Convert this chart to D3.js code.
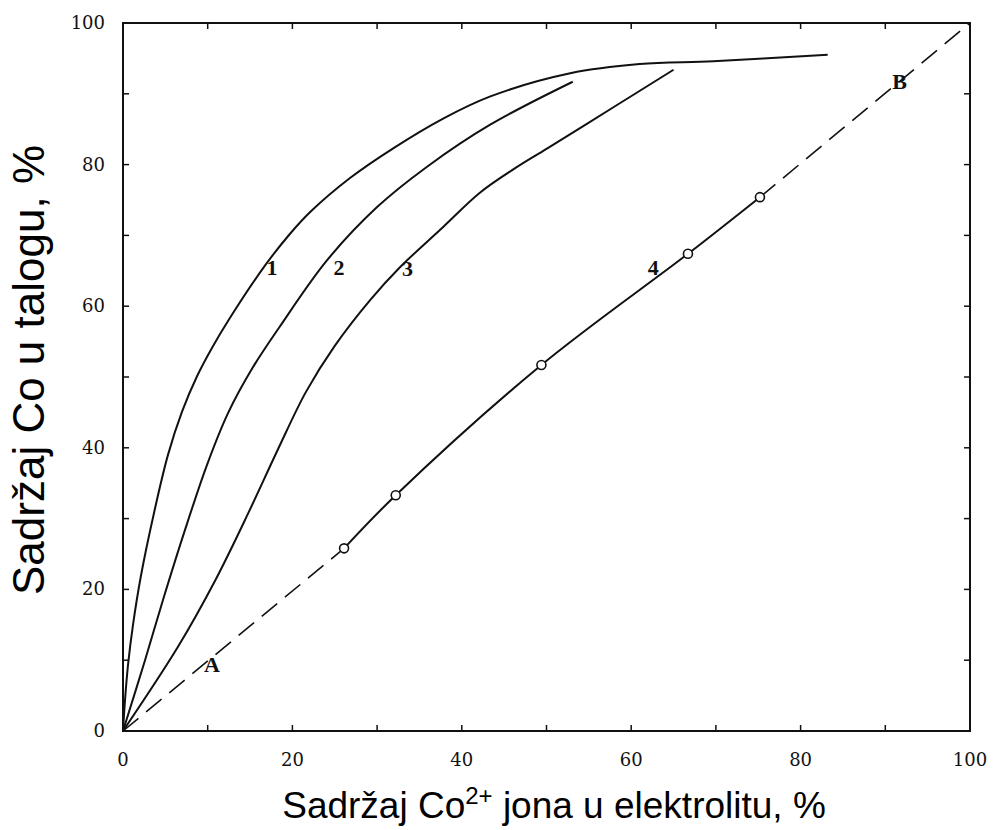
<!DOCTYPE html>
<html><head><meta charset="utf-8">
<script src="https://cdn.jsdelivr.net/npm/d3@7"></script>
<style>html,body{margin:0;padding:0;background:#fff;}</style>
</head><body>
<svg id="chart" width="993" height="830"></svg>
<script>
const tickValues = [0,10,20,30,40,50,60,70,80,90,100];
const tickLabels = [0,20,40,60,80,100];
const curve1 = [[0,0],[0.24,4.4],[0.59,9.3],[1.18,15.0],[2.13,22.0],[3.66,30.8],[5.31,39.0],[6.97,45.1],[8.74,50.1],[10.5,54.1],[12.6,58.3],[16.8,65.8],[19.7,70.2],[22.1,73.3],[26.8,78.1],[31.9,82.3],[37.8,86.5],[43.3,89.6],[52.8,92.9],[61.0,94.2],[69.7,94.6],[83.2,95.5]];
const curve2 = [[0,0],[2.6,10.0],[4.72,18.5],[7.32,28.4],[9.92,37.6],[12.4,44.9],[15.3,51.3],[18.5,57.1],[24.1,66.5],[30.0,74.0],[35.9,79.7],[43.3,85.6],[53.1,91.7]];
const curve3 = [[0,0],[6.49,11.9],[10.9,21.3],[14.8,30.8],[18.3,39.8],[21.6,47.9],[25.0,54.4],[29.2,60.9],[32.7,65.5],[37.8,71.2],[42.1,76.0],[46.3,79.5],[50.1,82.3],[57.9,88.1],[65.0,93.4]];
const points4 = [[26.1,25.8],[32.2,33.3],[49.4,51.7],[66.7,67.4],[75.2,75.4]];
const diagonal = [[0,0],[100,100]];
const curveLabels = [{t:"1",x:17.6,y:65.4},{t:"2",x:25.5,y:65.4},{t:"3",x:33.6,y:65.3},{t:"4",x:62.6,y:65.4}];
const lineLabels = [{t:"A",x:10.5,y:9.3},{t:"B",x:91.7,y:91.7}];
const xTitle = "Sadržaj Co";
const yTitle = "Sadržaj Co u talogu, %";

const svg = d3.select("#chart");
const x = d3.scaleLinear().domain([0,100]).range([123,970]);
const y = d3.scaleLinear().domain([0,100]).range([731,23]);
const line = d3.line().x(d=>x(d[0])).y(d=>y(d[1])).curve(d3.curveCatmullRom.alpha(0.5));
const straight = d3.line().x(d=>x(d[0])).y(d=>y(d[1]));

// frame
svg.append("rect").attr("x",x(0)).attr("y",y(100)).attr("width",x(100)-x(0)).attr("height",y(0)-y(100))
  .attr("fill","none").attr("stroke","#111").attr("stroke-width",2);

// inward ticks on all sides
const tl = 6;
const tk = svg.append("g").attr("stroke","#111").attr("stroke-width",1.5);
tickValues.filter(v=>v>0&&v<100).forEach(v=>{
  tk.append("line").attr("x1",x(v)).attr("x2",x(v)).attr("y1",y(0)).attr("y2",y(0)-tl);
  tk.append("line").attr("x1",x(v)).attr("x2",x(v)).attr("y1",y(100)).attr("y2",y(100)+tl);
  tk.append("line").attr("y1",y(v)).attr("y2",y(v)).attr("x1",x(0)).attr("x2",x(0)+tl);
  tk.append("line").attr("y1",y(v)).attr("y2",y(v)).attr("x1",x(100)).attr("x2",x(100)-tl);
});

// tick labels
const tf = "'DejaVu Serif', serif";
svg.append("g").selectAll("text").data(tickLabels).join("text")
  .attr("x",d=>x(d)).attr("y",766).attr("text-anchor","middle")
  .attr("font-family",tf).attr("font-size",18).attr("fill","#111").text(d=>d);
svg.append("g").selectAll("text").data(tickLabels).join("text")
  .attr("x",105).attr("y",d=>y(d)+6).attr("text-anchor","end")
  .attr("font-family",tf).attr("font-size",18).attr("fill","#111").text(d=>d);

// dashed diagonal segments outside line 4
const first = points4[0], last = points4[points4.length-1];
svg.append("path").attr("d",straight([diagonal[0],first])).attr("fill","none")
  .attr("stroke","#111").attr("stroke-width",1.6).attr("stroke-dasharray","20,10");
svg.append("path").attr("d",straight([last,diagonal[1]])).attr("fill","none")
  .attr("stroke","#111").attr("stroke-width",1.6).attr("stroke-dasharray","20,10");

// curves
[curve1,curve2,curve3].forEach(c=>{
  svg.append("path").attr("d",line(c)).attr("fill","none").attr("stroke","#111").attr("stroke-width",2);
});
svg.append("path").attr("d",line(points4)).attr("fill","none").attr("stroke","#111").attr("stroke-width",2);
svg.append("g").selectAll("circle").data(points4).join("circle")
  .attr("cx",d=>x(d[0])).attr("cy",d=>y(d[1])).attr("r",4.5)
  .attr("fill","#fff").attr("stroke","#111").attr("stroke-width",1.6);

// labels
const lf = "'Liberation Serif', serif";
svg.append("g").selectAll("text").data(curveLabels.concat(lineLabels)).join("text")
  .attr("x",d=>x(d.x)).attr("y",d=>y(d.y)+7).attr("text-anchor","middle")
  .attr("font-family",lf).attr("font-size",22).attr("font-weight","bold").attr("fill","#111").text(d=>d.t);

// axis titles
const xt = svg.append("text").attr("x",554).attr("y",818).attr("text-anchor","middle")
  .attr("font-family","'Liberation Sans', Arial, sans-serif").attr("font-size",37).attr("fill","#000");
xt.append("tspan").text(xTitle);
xt.append("tspan").attr("dy",-14).attr("font-size",24).text("2+");
xt.append("tspan").attr("dy",14).text(" jona u elektrolitu, %");

svg.append("text").attr("transform","translate(44,370) rotate(-90)").attr("text-anchor","middle")
  .attr("font-family","'Liberation Sans', Arial, sans-serif").attr("font-size",44).attr("fill","#000")
  .text(yTitle);
</script>
</body></html>
